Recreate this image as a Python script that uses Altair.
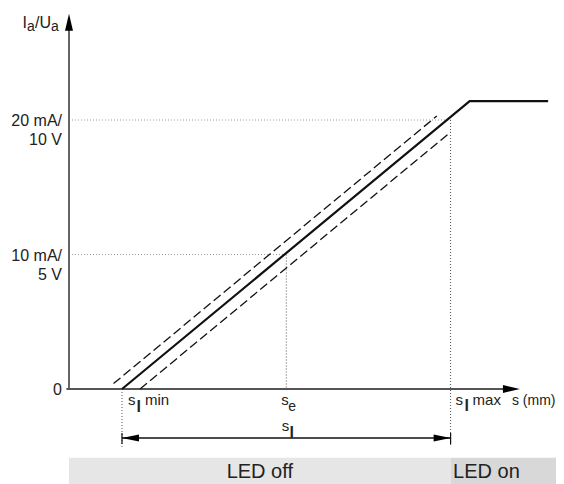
import altair as alt
import pandas as pd

FONT = "Liberation Sans"
INK = "#222222"

# ---- schematic values (x in mm, schematic; y in mA) ----
S_MIN = 2.5
S_E = 10.25
S_MAX = 18.0

solid_x = [2.5, 18.9, 22.6]
solid_y = [0.0, 21.4, 21.4]
upper_x = [2.1, 17.35]
upper_y = [0.4, 20.3]
lower_x = [3.35, 18.0]
lower_y = [0.0, 19.1]

y_ticks = [0, 10, 20]
y_tick_labels = ["0", "10 mA/\n5 V", "20 mA/\n10 V"]

Y_AXIS_TOP = 27.9
X_AXIS_START = -0.12
X_AXIS_END = 21.27
SPAN_Y = -3.64
SPAN_BAR = [-3.27, -4.09]
DOT_BOTTOM = -4.3
BAND_TOP = -5.11
BAND_BOTTOM = -7.06
LED_END = 23.0

led_labels = ["LED off", "LED on"]
led_starts = [0.0, S_MAX]
led_ends = [S_MAX, LED_END]
led_colors = ["#e6e6e6", "#d8d8d8"]

# ---- scales ----
W, H = 548, 476
PX_X, PX_Y = 21.2, 13.45
OX, OY = 61, 381
xs = alt.Scale(domain=[-OX / PX_X, (W - OX) / PX_X], nice=False, zero=False)
ys = alt.Scale(domain=[(OY - H) / PX_Y, OY / PX_Y], nice=False, zero=False)


def X(f="x"):
    return alt.X(f"{f}:Q", scale=xs, axis=None)


def Y(f="y"):
    return alt.Y(f"{f}:Q", scale=ys, axis=None)


layers = []

# LED bands
bands = pd.DataFrame({"x": led_starts, "x2": led_ends, "c": led_colors,
                      "y": [BAND_TOP] * 2, "y2": [BAND_BOTTOM] * 2})
layers.append(alt.Chart(bands).mark_rect().encode(
    x=X(), x2="x2", y=Y(), y2="y2", color=alt.Color("c:N", scale=None)))

# dotted guide lines
hdots = pd.DataFrame({"x": [0.0, 0.0], "x2": [S_E, S_MAX], "y": [10, 20]})
layers.append(alt.Chart(hdots).mark_rule(color="#9a9a9a", strokeDash=[1, 2], strokeWidth=1).encode(
    x=X(), x2="x2", y=Y()))
vdots = pd.DataFrame({"x": [S_E, S_MAX, S_MIN], "y": [10, 20, 0], "y2": [0, DOT_BOTTOM, DOT_BOTTOM]})
layers.append(alt.Chart(vdots).mark_rule(color="#555555", strokeDash=[1, 2], strokeWidth=1).encode(
    x=X(), y=Y(), y2="y2"))

# axes
layers.append(alt.Chart(pd.DataFrame({"x": [0.0], "y": [0.0], "y2": [Y_AXIS_TOP - 0.5]})).mark_rule(
    color="#555555", strokeWidth=1.8).encode(x=X(), y=Y(), y2="y2"))
layers.append(alt.Chart(pd.DataFrame({"x": [X_AXIS_START], "x2": [X_AXIS_END - 0.3], "y": [0.0]})).mark_rule(
    color="#555555", strokeWidth=1.8).encode(x=X(), x2="x2", y=Y()))

# span arrow s_l
layers.append(alt.Chart(pd.DataFrame({"x": [S_MIN], "x2": [S_MAX], "y": [SPAN_Y]})).mark_rule(
    color="#111111", strokeWidth=1.4).encode(x=X(), x2="x2", y=Y()))
layers.append(alt.Chart(pd.DataFrame({"x": [S_MIN, S_MAX], "y": [SPAN_BAR[0]] * 2, "y2": [SPAN_BAR[1]] * 2})).mark_rule(
    color="#111111", strokeWidth=1.2).encode(x=X(), y=Y(), y2="y2"))

# characteristic lines
layers.append(alt.Chart(pd.DataFrame({"x": upper_x, "y": upper_y})).mark_line(
    color="#111111", strokeWidth=1.3, strokeDash=[9, 4]).encode(x=X(), y=Y()))
layers.append(alt.Chart(pd.DataFrame({"x": lower_x, "y": lower_y})).mark_line(
    color="#111111", strokeWidth=1.3, strokeDash=[9, 4]).encode(x=X(), y=Y()))
layers.append(alt.Chart(pd.DataFrame({"x": solid_x, "y": solid_y})).mark_line(
    color="#111111", strokeWidth=2.2).encode(x=X(), y=Y()))

# arrowheads
UP = "M0,0L-0.47,2L0.47,2Z"
RIGHT = "M0,0L-2,-0.47L-2,0.47Z"
LEFT_S = "M0,0L2,-0.42L2,0.42Z"
RIGHT_S = "M0,0L-2,-0.42L-2,0.42Z"


def head(x, y, shape):
    return alt.Chart(pd.DataFrame({"x": [x], "y": [y]})).mark_point(
        shape=shape, filled=True, size=289, color="#000000", opacity=1, strokeWidth=0
    ).encode(x=X(), y=Y())


layers += [head(0.0, Y_AXIS_TOP, UP), head(X_AXIS_END, 0.0, RIGHT),
           head(S_MIN, SPAN_Y, LEFT_S), head(S_MAX, SPAN_Y, RIGHT_S)]


def label(text, x, y, dx=0, dy=0, size=15, align="left", baseline="alphabetic", weight="normal"):
    return alt.Chart(pd.DataFrame({"x": [x], "y": [y], "t": [text]})).mark_text(
        font=FONT, fontSize=size, align=align, baseline=baseline, dx=dx, dy=dy,
        fontWeight=weight, color=INK
    ).encode(x=X(), y=Y(), text="t:N")


# y tick labels
ticks = pd.DataFrame({"x": [0.0] * 3, "y": y_ticks, "t": y_tick_labels})
layers.append(alt.Chart(ticks).mark_text(
    font=FONT, fontSize=16, align="right", baseline="middle", dx=-7, dy=1,
    lineBreak="\n", lineHeight=19, color=INK
).encode(x=X(), y=Y(), text="t:N"))

# y axis title  I_a / U_a
layers += [
    label("I", 0.0, Y_AXIS_TOP, dx=-46.5, dy=14, size=16),
    label("a", 0.0, Y_AXIS_TOP, dx=-42, dy=17, size=14),
    label("/U", 0.0, Y_AXIS_TOP, dx=-34, dy=14, size=16),
    label("a", 0.0, Y_AXIS_TOP, dx=-18, dy=17, size=14),
]

# x labels
layers += [
    label("s", S_MIN, 0.0, dx=6, dy=16),
    label("l", S_MIN, 0.0, dx=16.7, dy=23, size=16, align="center", weight="bold"),
    label("min", S_MIN, 0.0, dx=23, dy=16),
    label("s", S_E, 0.0, dx=-5, dy=16),
    label("e", S_E, 0.0, dx=2, dy=22, size=14),
    label("s", S_MAX, 0.0, dx=5, dy=16),
    label("l", S_MAX, 0.0, dx=16, dy=22, size=16, align="center", weight="bold"),
    label("max", S_MAX, 0.0, dx=22, dy=16),
    label("s (mm)", X_AXIS_END, 0.0, dx=-8, dy=16, size=14),
    label("s", S_E, SPAN_Y, dx=-4.5, dy=-7),
    label("l", S_E, SPAN_Y, dx=5.4, dy=0, size=16, align="center", weight="bold"),
]

# LED labels
layers += [
    label(led_labels[0], (led_starts[0] + led_ends[0]) / 2, BAND_BOTTOM, dy=-5.7, size=20, align="center"),
    label(led_labels[1], led_starts[1], BAND_BOTTOM, dx=2.5, dy=-5.7, size=20),
]

chart = alt.layer(*layers).properties(
    width=W, height=H, padding=0, autosize="none"
).configure_view(stroke=None)

chart.save("out.html", embed_options={"renderer": "svg", "actions": False})
